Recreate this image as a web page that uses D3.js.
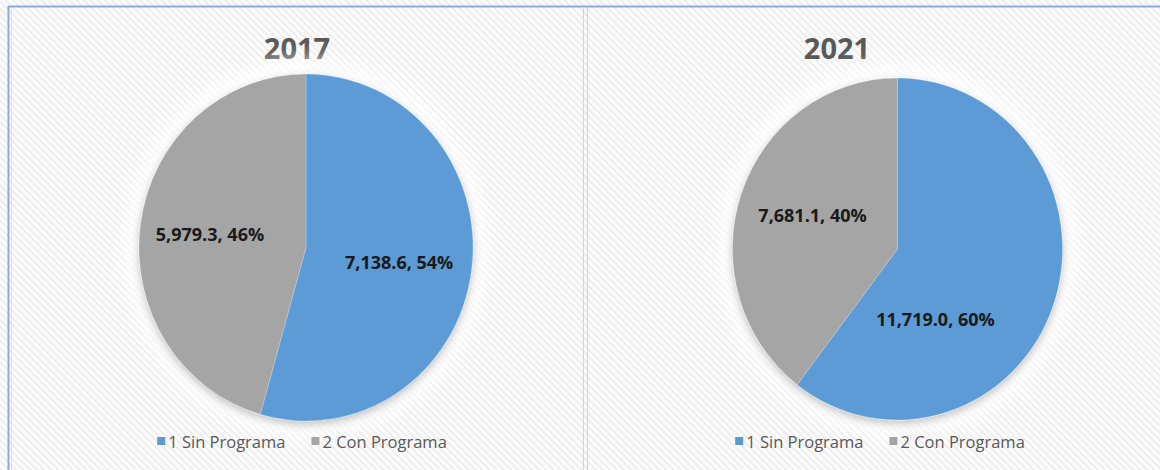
<!DOCTYPE html>
<html>
<head>
<meta charset="utf-8">
<script src="https://cdn.jsdelivr.net/npm/d3@7"></script>
<style>
  html, body { margin: 0; padding: 0; background: #ffffff; }
  svg { display: block; }
</style>
</head>
<body>
<svg id="chart" width="1160" height="470"></svg>
<script>
// ---- data ----
const years = ["2017", "2021"];
const categories = ["1 Sin Programa", "2 Con Programa"];
const values2017 = [7138.6, 5979.3];
const values2021 = [11719.0, 7681.1];
const seriesValues = [values2017, values2021];
const colors = ["#5B9BD5", "#A5A5A5"];

// ---- layout (positions / sizes only) ----
const panels = [
  { cx: 306, cy: 247.5, r: 167, sy: 1.039, titleX: 297, legendCX: 302,
    labelPos: [[0.558, 0.092], [-0.575, -0.076]] },
  { cx: 897.5, cy: 249, r: 165, sy: 1.036, titleX: 837, legendCX: 880,
    labelPos: [[0.23, 0.43], [-0.515, -0.205]] }
];

const svg = d3.select("#chart");
const W = 1160, H = 470;
const defs = svg.append("defs");

// diagonal hatch background
const pat = defs.append("pattern")
  .attr("id", "hatch").attr("patternUnits", "userSpaceOnUse")
  .attr("width", 5).attr("height", 5)
  .attr("patternTransform", "rotate(45)");
pat.append("rect").attr("width", 5).attr("height", 5).attr("fill", "#fcfcfc");
pat.append("rect").attr("width", 5).attr("height", 2).attr("fill", "#eeeeee");

const shadow = defs.append("filter").attr("id", "shadow")
  .attr("x", "-20%").attr("y", "-20%").attr("width", "140%").attr("height", "140%");
shadow.append("feDropShadow").attr("dx", 0).attr("dy", 3)
  .attr("stdDeviation", 4).attr("flood-color", "#000").attr("flood-opacity", 0.25);

const halo = defs.append("filter").attr("id", "halo")
  .attr("x", "-30%").attr("y", "-30%").attr("width", "160%").attr("height", "160%");
halo.append("feGaussianBlur").attr("stdDeviation", 9);

svg.append("rect").attr("x", 0).attr("y", 0).attr("width", W).attr("height", H)
  .attr("fill", "url(#hatch)");

// frame lines
svg.append("line").attr("x1", 8).attr("x2", W).attr("y1", 6.5).attr("y2", 6.5)
  .attr("stroke", "#8FAADC").attr("stroke-width", 2);
svg.append("line").attr("x1", 8.5).attr("x2", 8.5).attr("y1", 6).attr("y2", H)
  .attr("stroke", "#8FAADC").attr("stroke-width", 2);
svg.append("line").attr("x1", 11.5).attr("x2", 11.5).attr("y1", 9).attr("y2", H)
  .attr("stroke", "#e2e2e2").attr("stroke-width", 1);
svg.append("line").attr("x1", 583.5).attr("x2", 583.5).attr("y1", 8).attr("y2", H)
  .attr("stroke", "#d6d6d6").attr("stroke-width", 1.2);
svg.append("line").attr("x1", 587.5).attr("x2", 587.5).attr("y1", 8).attr("y2", H)
  .attr("stroke", "#d6d6d6").attr("stroke-width", 1.2);

const fmt = d3.format(",.1f");

panels.forEach((p, i) => {
  const vals = seriesValues[i];
  const total = d3.sum(vals);
  const pie = d3.pie().sort(null).value(d => d)(vals);
  const arc = d3.arc().innerRadius(0).outerRadius(p.r);

  // title
  svg.append("text")
    .attr("x", p.titleX).attr("y", 59)
    .attr("text-anchor", "middle")
    .attr("font-family", "'Open Sans', sans-serif")
    .attr("font-weight", "bold").attr("font-size", 29)
    .attr("fill", "#595959")
    .text(years[i]);

  const g = svg.append("g")
    .attr("transform", `translate(${p.cx},${p.cy}) scale(1,${p.sy})`);

  // soft white halo around pie
  g.append("circle").attr("r", p.r + 12).attr("fill", "#ffffff")
    .attr("opacity", 0.95).attr("filter", "url(#halo)");

  const slices = g.append("g").attr("filter", "url(#shadow)");
  slices.selectAll("path").data(pie).join("path")
    .attr("d", arc)
    .attr("fill", (d, j) => colors[j])
    .attr("stroke", "#ffffff").attr("stroke-opacity", 0.25).attr("stroke-width", 0.8);

  // data labels
  const lg = svg.append("g").attr("transform", `translate(${p.cx},${p.cy})`);
  lg.selectAll("text").data(pie).join("text")
    .attr("x", (d, j) => p.labelPos[j][0] * p.r)
    .attr("y", (d, j) => p.labelPos[j][1] * p.r)
    .attr("dy", "0.36em")
    .attr("text-anchor", "middle")
    .attr("font-family", "'Open Sans', sans-serif")
    .attr("font-weight", "bold").attr("font-size", 18)
    .attr("fill", "#1a1a1a")
    .text(d => `${fmt(d.value)}, ${Math.round(d.value / total * 100)}%`);

  // legend
  const leg = svg.append("g");
  const items = leg.selectAll("g").data(categories).join("g");
  items.append("rect").attr("width", 8).attr("height", 8).attr("y", -11)
    .attr("fill", (d, j) => colors[j]);
  items.append("text").attr("x", 11).attr("y", 0)
    .attr("font-family", "'Open Sans', sans-serif")
    .attr("font-size", 16.5).attr("fill", "#595959")
    .text(d => d);
  const widths = [];
  items.each(function () {
    const tw = d3.select(this).select("text").node().getComputedTextLength();
    widths.push(11 + tw);
  });
  const gap = 26;
  const totalW = d3.sum(widths) + gap * (widths.length - 1);
  let cur = p.legendCX - totalW / 2;
  items.attr("transform", (d, j) => {
    const t = `translate(${cur},448)`;
    cur += widths[j] + gap;
    return t;
  });
});
</script>
</body>
</html>
